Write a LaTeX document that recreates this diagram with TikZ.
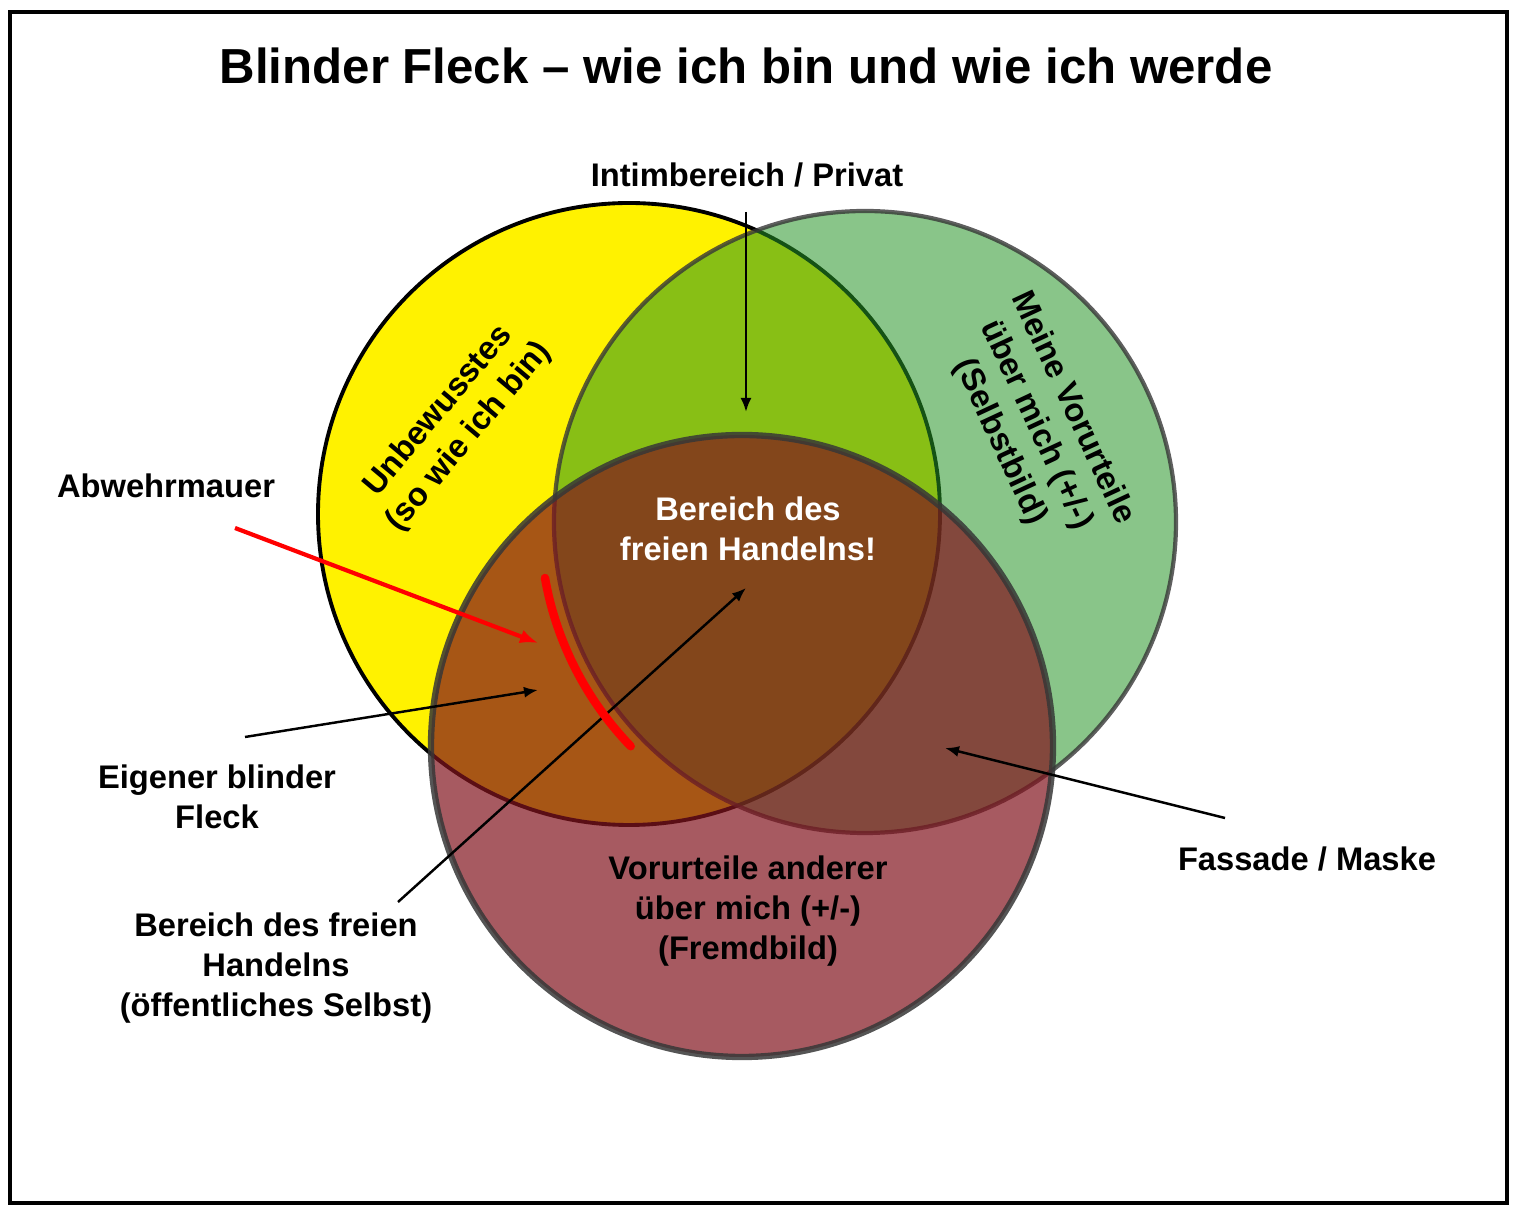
\documentclass[tikz,border=0pt]{standalone}
\usepackage{fontspec}
\setmainfont{Liberation Sans}
\usetikzlibrary{arrows.meta}

\definecolor{fgelb}{RGB}{255,242,0}
\definecolor{fgruen}{RGB}{40,150,40}
\definecolor{frot}{RGB}{130,20,30}
\definecolor{rand}{RGB}{55,55,55}

\begin{document}
\begin{tikzpicture}[x=1cm,y=-1cm,
  kreis/.style={circle,minimum size=6.22cm,inner sep=0pt},
  txt/.style={font=\fontsize{9.3}{11.4}\selectfont\bfseries,align=center},
  pfeil/.style={-{Latex[length=1.4mm,width=1.1mm]},line width=0.7pt},
  rotpfeil/.style={-{Latex[length=1.8mm,width=1.4mm]},line width=1.2pt,red}]
\useasboundingbox (0,0) rectangle (15.17,12.16);
\draw[line width=0.9pt] (0.10,0.12) rectangle (15.07,12.03);

% Titel
\node[font=\fontsize{14}{16}\selectfont\bfseries] (titel) at (7.46,0.66) {Blinder Fleck -- wie ich bin und wie ich werde};

% Kreise
\node[kreis,fill=fgelb,draw=black,line width=1.1pt] (unbewusst) at (6.29,5.14) {};
\node[kreis,fill=fgruen,fill opacity=0.55,draw=rand,draw opacity=0.8,line width=1.2pt] (selbst) at (8.65,5.22) {};
\node[kreis,fill=frot,fill opacity=0.7,draw=rand,draw opacity=0.85,line width=1.8pt] (fremd) at (7.42,7.46) {};

% Texte in den Kreisen
\node[txt,rotate=50] (unbew) at (4.54,4.24) {Unbewusstes\\(so wie ich bin)};
\node[txt,rotate=-65] (vorurt) at (10.36,4.25) {Meine Vorurteile\\über mich (+/-)\\(Selbstbild)};
\node[txt,text=white] (frei) at (7.48,5.29) {Bereich des\\freien Handelns!};
\node[txt] (fremdbild) at (7.48,9.11) {Vorurteile anderer\\über mich (+/-)\\(Fremdbild)};

% Beschriftungen aussen
\node[txt] (intim) at (7.47,1.75) {Intimbereich / Privat};
\node[txt] (abwehr) at (1.66,4.86) {Abwehrmauer};
\node[txt] (blind) at (2.17,7.97) {Eigener blinder\\Fleck};
\node[txt] (oeffentlich) at (2.76,9.68) {Bereich des freien\\Handelns\\(öffentliches Selbst)};
\node[txt] (maske) at (13.07,8.59) {Fassade / Maske};

% Pfeile
\coordinate (intimA) at (7.46,2.12);
\coordinate (intimB) at (7.46,4.12);
\coordinate (abwehrA) at (2.35,5.28);
\coordinate (abwehrB) at (5.38,6.43);
\coordinate (blindA) at (2.45,7.37);
\coordinate (blindB) at (5.38,6.90);
\coordinate (oeffA) at (3.98,9.02);
\coordinate (oeffB) at (7.46,5.88);
\coordinate (maskeA) at (12.25,8.18);
\coordinate (maskeB) at (9.45,7.48);
\draw[pfeil] (intimA) -- (intimB);
\draw[rotpfeil] (abwehrA) -- (abwehrB);
\draw[pfeil] (blindA) -- (blindB);
\draw[pfeil] (oeffA) -- (oeffB);
\draw[pfeil] (maskeA) -- (maskeB);

% Abwehrmauer
\draw[red,line width=2.4pt,line cap=round] (5.45,5.78) arc[start angle=170,end angle=136,radius=3.23];
\end{tikzpicture}
\end{document}
